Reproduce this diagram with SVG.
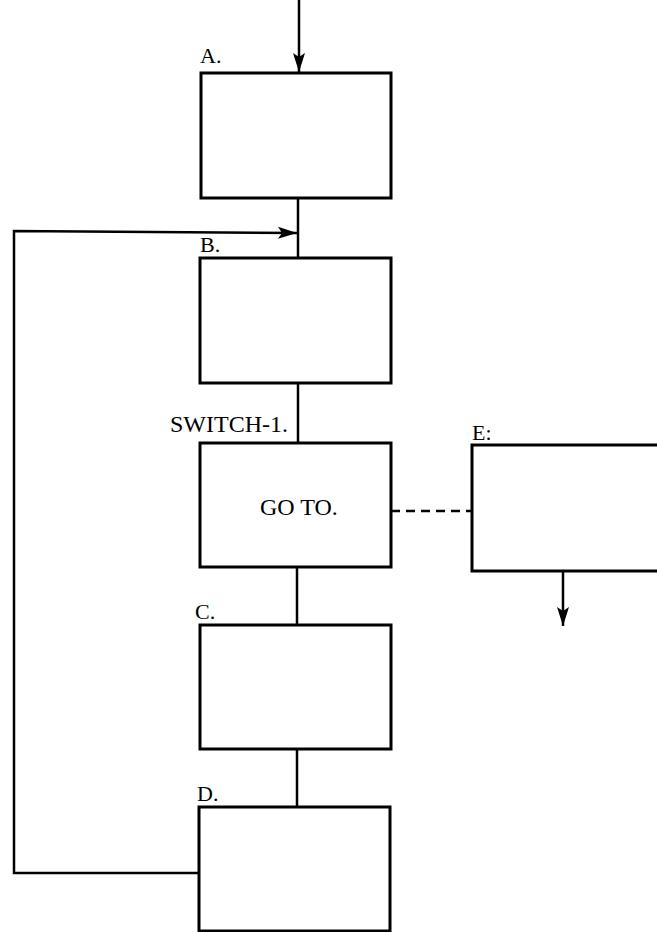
<svg xmlns="http://www.w3.org/2000/svg" width="657" height="932" viewBox="0 0 657 932">
<style>
.box{fill:#fff;stroke:#000;stroke-width:3}
.ln{fill:none;stroke:#000;stroke-width:2.5}
.dash{fill:none;stroke:#000;stroke-width:2.5;stroke-dasharray:9 6}
.lbl{font-family:"Liberation Serif","Times New Roman",serif;font-size:22px;fill:#000}
.big{font-family:"Liberation Serif","Times New Roman",serif;font-size:24px;fill:#000}
</style>
<defs>
<marker id="ah" markerWidth="20" markerHeight="14" refX="19" refY="7" orient="auto" markerUnits="userSpaceOnUse">
<path d="M0,1 L19,7 L0,13 L4,7 Z" fill="#000"/>
</marker>
</defs>
<g id="connectors">
<line class="ln" x1="299" y1="0" x2="299" y2="72" marker-end="url(#ah)"/>
<line class="ln" x1="298" y1="198" x2="298" y2="258"/>
<line class="ln" x1="298" y1="383" x2="298" y2="443"/>
<line class="ln" x1="297" y1="567" x2="297" y2="625"/>
<line class="ln" x1="297" y1="749" x2="297" y2="807"/>
<polyline class="ln" points="199,873 14,873 14,231 297,233" marker-end="url(#ah)"/>
<line class="dash" x1="391" y1="511" x2="472" y2="511"/>
<line class="ln" x1="563" y1="571" x2="563" y2="626" marker-end="url(#ah)"/>
</g>
<g id="nodeA">
<rect class="box" x="201" y="73" width="190" height="125"/>
<text class="lbl" x="200" y="63">A.</text>
</g>
<g id="nodeB">
<rect class="box" x="200" y="258" width="191" height="125"/>
<text class="lbl" x="200" y="252">B.</text>
</g>
<g id="nodeSwitch">
<rect class="box" x="200" y="443" width="191" height="124"/>
<text class="big" x="170" y="432">SWITCH-1.</text>
<text class="big" x="260" y="515">GO TO.</text>
</g>
<g id="nodeC">
<rect class="box" x="200" y="625" width="191" height="124"/>
<text class="lbl" x="195" y="619">C.</text>
</g>
<g id="nodeD">
<rect class="box" x="199" y="807" width="191" height="124"/>
<text class="lbl" x="197" y="801">D.</text>
</g>
<g id="nodeE">
<rect class="box" x="472" y="445" width="200" height="126"/>
<text class="lbl" x="472" y="440">E:</text>
</g>
</svg>
